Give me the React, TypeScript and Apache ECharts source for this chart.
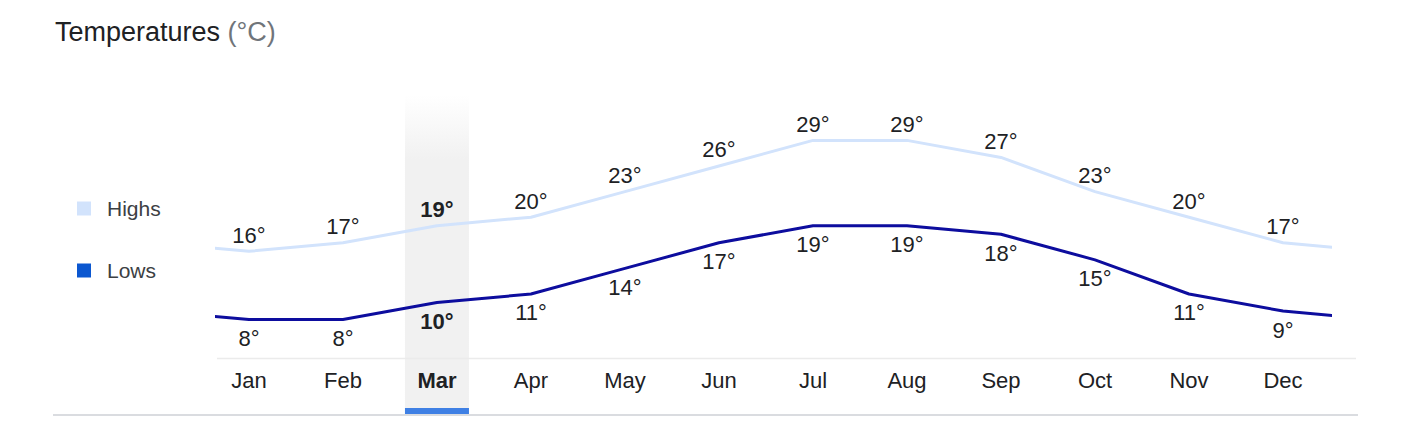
import React, { useEffect, useRef } from "react";
import * as echarts from "echarts";

const months = ["Jan", "Feb", "Mar", "Apr", "May", "Jun", "Jul", "Aug", "Sep", "Oct", "Nov", "Dec"];
const highs = [16, 17, 19, 20, 23, 26, 29, 29, 27, 23, 20, 17];
const lows = [8, 8, 10, 11, 14, 17, 19, 19, 18, 15, 11, 9];
const selectedIndex = 2;

const FONT = "Arial, 'Liberation Sans', sans-serif";

function buildData(arr: number[]) {
  const n = arr.length;
  const items: any[] = [];
  items.push({ value: [-1, arr[n - 1]], label: { show: false } });
  arr.forEach((v, i) => {
    items.push({
      value: [i, v],
      label: i === selectedIndex ? { fontWeight: "bold" } : {},
    });
  });
  items.push({ value: [n, arr[0]], label: { show: false } });
  return items;
}

export default function App() {
  const ref = useRef<HTMLDivElement>(null);
  useEffect(() => {
    document.body.style.margin = "0";
    if (!ref.current) return;
    const chart = echarts.init(ref.current, undefined, { renderer: "svg" });
    chart.setOption({
      animation: false,
      backgroundColor: "#ffffff",
      title: {
        left: 55,
        top: 18,
        padding: 0,
        text: "{a|Temperatures} {b|(°C)}",
        textStyle: {
          fontWeight: "normal",
          fontSize: 27,
          fontFamily: FONT,
          rich: {
            a: { fontSize: 27, color: "#202124", fontFamily: FONT, fontWeight: "normal" },
            b: { fontSize: 27, color: "#70757a", fontFamily: FONT, fontWeight: "normal" },
          },
        },
      },
      legend: {
        orient: "vertical",
        left: 77,
        top: 198,
        padding: 0,
        itemWidth: 14,
        itemHeight: 14,
        itemGap: 41,
        icon: "rect",
        selectedMode: false,
        textStyle: { fontSize: 21, color: "#3c4043", fontFamily: FONT, padding: [0, 0, 0, 11] },
        data: [
          { name: "Highs", itemStyle: { color: "#d2e3fc" } },
          { name: "Lows", itemStyle: { color: "#0b57d0" } },
        ],
      },
      grid: { left: 217, right: 94, top: 96, height: 262, containLabel: false },
      xAxis: {
        type: "value",
        min: -0.34,
        max: 11.5,
        axisLine: { show: false },
        axisTick: { show: false },
        splitLine: { show: false },
        axisLabel: {
          customValues: months.map((_, i) => i),
          margin: 11,
          fontSize: 22,
          color: "#202124",
          fontFamily: FONT,
          formatter: (v: number) => {
            const i = Math.round(v);
            return i === selectedIndex ? "{b|" + months[i] + "}" : months[i];
          },
          rich: { b: { fontWeight: "bold", fontSize: 22, color: "#202124", fontFamily: FONT } },
        },
      },
      yAxis: {
        type: "value",
        min: 3.5,
        max: 34.2,
        show: false,
        splitLine: { show: false },
      },
      series: [
        {
          name: "Highs",
          type: "line",
          data: buildData(highs),
          symbol: "circle",
          symbolSize: 0,
          showSymbol: true,
          itemStyle: { color: "#d2e3fc" },
          lineStyle: { color: "#d2e3fc", width: 3 },
          z: 3,
          label: {
            show: true,
            position: "top",
            distance: 5,
            fontSize: 22,
            color: "#202124",
            fontFamily: FONT,
            formatter: (p: any) => p.value[1] + "°",
          },
        },
        {
          name: "Lows",
          type: "line",
          data: buildData(lows),
          symbol: "circle",
          symbolSize: 0,
          showSymbol: true,
          itemStyle: { color: "#0d0d9e" },
          lineStyle: { color: "#0d0d9e", width: 3 },
          z: 3,
          label: {
            show: true,
            position: "bottom",
            distance: 8,
            fontSize: 22,
            color: "#202124",
            fontFamily: FONT,
            formatter: (p: any) => p.value[1] + "°",
          },
        },
      ],
    });

    const cx = chart.convertToPixel({ xAxisIndex: 0 }, selectedIndex) as number;
    const gridLeft = chart.convertToPixel({ xAxisIndex: 0 }, -0.34) as number;
    chart.setOption({
      graphic: [
        {
          type: "rect",
          z: 0,
          silent: true,
          shape: { x: cx - 32, y: 95, width: 64, height: 320 },
          style: {
            fill: new echarts.graphic.LinearGradient(0, 0, 0, 1, [
              { offset: 0, color: "rgba(241,241,241,0)" },
              { offset: 0.2, color: "#f1f1f1" },
              { offset: 1, color: "#f1f1f1" },
            ]),
          },
        },
        {
          type: "line",
          z: 1,
          silent: true,
          shape: { x1: gridLeft, y1: 358.5, x2: 1356, y2: 358.5 },
          style: { stroke: "#ebebeb", lineWidth: 1.5 },
        },
        {
          type: "rect",
          z: 1,
          silent: true,
          shape: { x: cx - 32, y: 408, width: 64, height: 7 },
          style: { fill: "#3f80e4" },
        },
        {
          type: "line",
          z: 1,
          silent: true,
          shape: { x1: 53, y1: 415, x2: 1358, y2: 415 },
          style: { stroke: "#dadce0", lineWidth: 2 },
        },
      ],
    });

    return () => chart.dispose();
  }, []);
  return <div ref={ref} style={{ width: 1424, height: 444 }} />;
}
